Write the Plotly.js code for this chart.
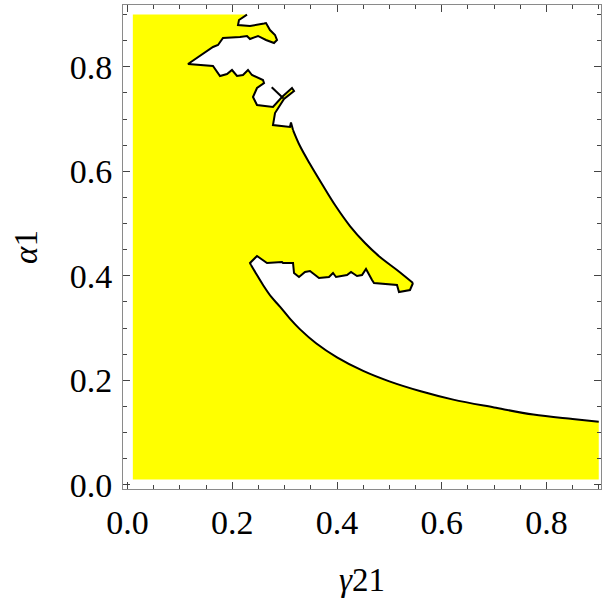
<!DOCTYPE html>
<html>
<head>
<meta charset="utf-8">
<script src="https://cdn.plot.ly/plotly-3.0.1.min.js"></script>
<style>html,body{margin:0;padding:0;background:#fff;}#plot{width:603px;height:607px;}</style>
</head>
<body>
<div id="plot"></div>
<script>
// Boundary of the yellow region (gamma21, alpha1), in four pieces
const jaggedTopX = [0.2281,0.2128,0.2109,0.2338,0.2606,0.2644,0.2720,0.2816,0.2854,0.2797,0.2644,0.2491,0.2338,0.2281,0.2147,0.1822,0.1727,0.1631,0.1154,
  0.1631,0.1765,0.1899,0.1994,0.2090,0.2204,0.2300,0.2376,0.2586,0.2606,0.2472,0.2395,0.2472,0.2777,0.2949,0.3140,0.3179,0.2988,0.2816,0.2777,0.3102,0.3121,0.3160];
const jaggedTopY = [0.9000,0.8896,0.8800,0.8781,0.8829,0.8838,0.8704,0.8609,0.8513,0.8456,0.8513,0.8590,0.8532,0.8590,0.8570,0.8551,0.8417,0.8379,0.8054,
  0.8015,0.7824,0.7862,0.7939,0.7824,0.7843,0.7939,0.7843,0.7747,0.7690,0.7594,0.7422,0.7269,0.7231,0.7422,0.7594,0.7537,0.7384,0.7116,0.6886,0.6848,0.6934,0.6790];
const upperCurveX = [0.3160,0.3293,0.3484,0.3713,0.3962,0.4248,0.4535,0.4821,0.5146,0.5452];
const upperCurveY = [0.6790,0.6484,0.6140,0.5757,0.5355,0.4953,0.4628,0.4360,0.4111,0.3862];
const tongueX = [0.5452,0.5394,0.5184,0.5146,0.4707,0.4669,0.4554,0.4478,0.4382,0.4268,0.4191,0.3981,0.3924,0.3847,0.3656,0.3484,0.3389,0.3274,0.3179,0.3160,0.2968,0.2949,0.2663,0.2472,0.2338,0.2357];
const tongueY = [0.3862,0.3728,0.3690,0.3824,0.3862,0.3920,0.4130,0.4015,0.3996,0.4073,0.4015,0.3977,0.4054,0.3977,0.3958,0.4092,0.4073,0.3977,0.4054,0.4245,0.4245,0.4264,0.4245,0.4379,0.4245,0.4207];
const lowerCurveX = [0.2357,0.245,0.259,0.275,0.291,0.31,0.329,0.36,0.40,0.45,0.50,0.56,0.622,0.70,0.775,0.85,0.90];
const lowerCurveY = [0.4207,0.405,0.382,0.359,0.341,0.318,0.298,0.271,0.244,0.218,0.198,0.179,0.163,0.148,0.1345,0.126,0.1208];
// Straight edges of the sampled region (unstroked)
const startCornerX = [0.01, 0.01];
const startCornerY = [0.01, 0.90];
const endCornerX = [0.90, 0.01];
const endCornerY = [0.01, 0.01];
// Small stray boundary segment near the cusp
const strayX = [0.2753, 0.2974];
const strayY = [0.7608, 0.7397];

const tickVals = [0, 0.2, 0.4, 0.6, 0.8];
const tickText = ['0.0', '0.2', '0.4', '0.6', '0.8'];

const fillX = startCornerX.concat(jaggedTopX, upperCurveX, tongueX, lowerCurveX, endCornerX);
const fillY = startCornerY.concat(jaggedTopY, upperCurveY, tongueY, lowerCurveY, endCornerY);

const serif = 'Liberation Serif';
const black = {color: '#000', width: 2};
const traces = [
  {x: fillX, y: fillY, type: 'scatter', mode: 'lines', fill: 'toself',
   fillcolor: '#ffff00', line: {width: 0, color: 'rgba(0,0,0,0)'}, hoverinfo: 'skip'},
  {x: jaggedTopX, y: jaggedTopY, type: 'scatter', mode: 'lines', line: black, hoverinfo: 'skip'},
  {x: upperCurveX, y: upperCurveY, type: 'scatter', mode: 'lines', line: Object.assign({shape: 'spline', smoothing: 1}, black), hoverinfo: 'skip'},
  {x: tongueX, y: tongueY, type: 'scatter', mode: 'lines', line: black, hoverinfo: 'skip'},
  {x: lowerCurveX, y: lowerCurveY, type: 'scatter', mode: 'lines', line: Object.assign({shape: 'spline', smoothing: 1}, black), hoverinfo: 'skip'},
  {x: strayX, y: strayY, type: 'scatter', mode: 'lines', line: black, hoverinfo: 'skip'}
];

function axis(range, titleText, standoff) {
  return {
    showgrid: false, zeroline: false, showline: true, mirror: 'ticks',
    linecolor: '#8a8a8a', linewidth: 1,
    ticks: 'inside', ticklen: 7, tickwidth: 1, tickcolor: '#444',
    tickvals: tickVals, ticktext: tickText,
    ticklabelstandoff: 3,
    tickfont: {family: serif, size: 34, color: '#000'},
    minor: {dtick: 0.05, tick0: 0, ticks: 'inside', ticklen: 4, tickwidth: 1, tickcolor: '#444'},
    range: range,
    title: {text: titleText, font: {family: serif, size: 33, color: '#000'}, standoff: standoff}
  };
}

const layout = {
  width: 603, height: 607,
  font: {family: serif, size: 34, color: '#000'},
  margin: {l: 123, r: 2, t: 5, b: 118},
  paper_bgcolor: '#fff', plot_bgcolor: '#fff',
  showlegend: false,
  xaxis: axis([-0.00879, 0.9043], '<i>γ</i>21', 28),
  yaxis: axis([-0.00804, 0.9183], '<i>α</i>1', 22)
};

Plotly.newPlot('plot', traces, layout, {staticPlot: true, displayModeBar: false});
</script>
</body>
</html>
